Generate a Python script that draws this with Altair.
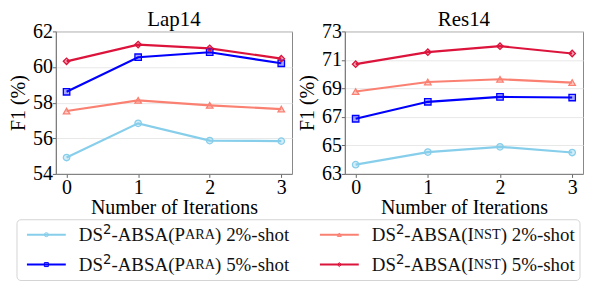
import altair as alt
import pandas as pd

# ---------------- data ----------------
iterations = [0, 1, 2, 3]
series_keys = ["Para 2%", "Para 5%", "Inst 2%", "Inst 5%"]
series_colors = ["#87CEEB", "#0000FF", "#FA8072", "#DC143C"]
series_shapes = ["circle", "square", "triangle-up", "diamond"]

lap14_para2 = [54.92, 56.84, 55.87, 55.84]
lap14_para5 = [58.61, 60.55, 60.83, 60.21]
lap14_inst2 = [57.53, 58.13, 57.85, 57.64]
lap14_inst5 = [60.32, 61.26, 61.05, 60.47]

res14_para2 = [63.65, 64.53, 64.90, 64.50]
res14_para5 = [66.87, 68.06, 68.40, 68.36]
res14_inst2 = [68.78, 69.45, 69.64, 69.41]
res14_inst5 = [70.70, 71.54, 71.96, 71.45]

lap14_ticks = [54, 56, 58, 60, 62]
res14_ticks = [63, 65, 67, 69, 71, 73]

legend_method = ["P", "P", "I", "I"]
legend_smallcaps = ["ARA", "ARA", "NST", "NST"]
legend_shot = ["2%", "5%", "2%", "5%"]

SERIF = "Liberation Serif"


def long_df(values):
    rows = []
    for key, vals in zip(series_keys, values):
        for it, v in zip(iterations, vals):
            rows.append({"iter": it, "f1": v, "series": key})
    return pd.DataFrame(rows)


lap_df = long_df([lap14_para2, lap14_para5, lap14_inst2, lap14_inst5])
res_df = long_df([res14_para2, res14_para5, res14_inst2, res14_inst5])

cscale = alt.Scale(domain=series_keys, range=series_colors)
sscale = alt.Scale(domain=series_keys, range=series_shapes)

PW, PH = 237, 143


def panel_layers(df, ticks):
    base = alt.Chart(df).encode(
        x=alt.X("iter:Q",
                scale=alt.Scale(domain=[-0.15, 3.15], nice=False, zero=False),
                axis=alt.Axis(values=iterations, format="d", title="Number of Iterations",
                              grid=False, titlePadding=0)),
        y=alt.Y("f1:Q",
                scale=alt.Scale(domain=[ticks[0], ticks[-1]], nice=False, zero=False),
                axis=alt.Axis(values=ticks, format="d", title="F1 (%)", grid=True,
                              titlePadding=4)),
    )
    lines = base.mark_line(strokeWidth=2.2).encode(
        color=alt.Color("series:N", scale=cscale, legend=None))
    pts = base.mark_point(filled=True, size=42, fillOpacity=0.35, strokeOpacity=1,
                          strokeWidth=1.3).encode(
        fill=alt.Fill("series:N", scale=cscale, legend=None),
        stroke=alt.Stroke("series:N", scale=cscale, legend=None),
        shape=alt.Shape("series:N", scale=sscale, legend=None),
    )
    return [lines, pts]


# ---------------- legend (drawn by hand for superscript / small caps) ----------------
# placed below the two panels, in pixels relative to the left panel's plot area
TIMES = {"D": 722, "S": 556, "-": 333, "A": 722, "B": 667, "(": 333, "P": 556, "I": 333,
         "R": 667, "N": 722, "T": 611, ")": 333, " ": 250, "2": 500, "5": 500, "%": 833,
         "s": 389, "h": 500, "o": 500, "t": 278}


def tw(s, size):
    return sum(TIMES[c] for c in s) * size / 1000.0


F = 19
SUP = 13.3
SC = 14.3
box_x = (-39, 526)
box_y = (189, 250)
col_sym = [-29, 265]
sym_len = 39
col_text = [23, 317]
row_y = [204, 234]

rows = []
for i, key in enumerate(series_keys):
    col = 0 if i < 2 else 1
    row = i % 2
    t1 = "DS"
    t2 = "2"
    t3 = "-ABSA(" + legend_method[i]
    t4 = legend_smallcaps[i]
    t5 = ") " + legend_shot[i] + "-shot"
    x1 = col_text[col]
    x2 = x1 + tw(t1, F)
    x3 = x2 + 0.636 * SUP
    x4 = x3 + tw(t3, F)
    x5 = x4 + tw(t4, SC)
    rows.append({"series": key, "y": row_y[row], "ys": row_y[row] - 5,
                 "lx0": col_sym[col], "lx1": col_sym[col] + sym_len,
                 "lxm": col_sym[col] + sym_len / 2,
                 "t1": t1, "t2": t2, "t3": t3, "t4": t4, "t5": t5,
                 "x1": x1, "x2": x2, "x3": x3, "x4": x4, "x5": x5})
leg_df = pd.DataFrame(rows)

lbase = alt.Chart(leg_df)
box = alt.Chart(pd.DataFrame({"a": [0]})).mark_rect(
    fill="white", stroke="#d4d4d4", strokeWidth=1, cornerRadius=4).encode(
    x=alt.value(box_x[0]), x2=alt.value(box_x[1]),
    y=alt.value(box_y[0]), y2=alt.value(box_y[1]))
lrule = lbase.mark_rule(strokeWidth=2).encode(
    x=alt.X("lx0:Q", scale=None), x2="lx1:Q", y=alt.Y("y:Q", scale=None),
    color=alt.Color("series:N", scale=cscale, legend=None))
lpts = lbase.mark_point(filled=True, size=16, fillOpacity=0.35, strokeOpacity=1,
                        strokeWidth=1).encode(
    x=alt.X("lxm:Q", scale=None), y=alt.Y("y:Q", scale=None),
    fill=alt.Fill("series:N", scale=cscale, legend=None),
    stroke=alt.Stroke("series:N", scale=cscale, legend=None),
    shape=alt.Shape("series:N", scale=sscale, legend=None))


def seg(xcol, tcol, size, ycol="y", font=SERIF):
    return lbase.mark_text(align="left", baseline="middle", font=font, fontSize=size,
                           color="#111").encode(
        x=alt.X(f"{xcol}:Q", scale=None), y=alt.Y(f"{ycol}:Q", scale=None),
        text=f"{tcol}:N")


legend_layers = [
    box, lrule, lpts,
    seg("x1", "t1", F), seg("x2", "t2", SUP, "ys", "DejaVu Sans"),
    seg("x3", "t3", F), seg("x4", "t4", SC), seg("x5", "t5", F),
]

left = alt.layer(*panel_layers(lap_df, lap14_ticks), *legend_layers).properties(
    width=PW, height=PH, title=alt.TitleParams("Lap14", frame="group", offset=-9))
right = alt.layer(*panel_layers(res_df, res14_ticks)).properties(
    width=239, height=PH, title=alt.TitleParams("Res14", frame="group", offset=-9))

chart = alt.hconcat(left, right, spacing=53, bounds="flush").properties(
    padding={"left": 0, "top": 0, "right": 0, "bottom": 0},
).configure_axis(
    labelFont=SERIF, labelFontSize=20, labelColor="black",
    titleFont=SERIF, titleFontSize=20, titleFontWeight="normal", titleColor="black",
    tickColor="#666", tickSize=3.5, domainColor="#777", gridColor="#e8e8e8",
    labelPadding=0,
).configure_view(stroke="#888", strokeWidth=1).configure_title(
    font=SERIF, fontSize=21, fontWeight="normal", color="black"
)

chart.save("out.html", embed_options={"renderer": "svg", "actions": False})
